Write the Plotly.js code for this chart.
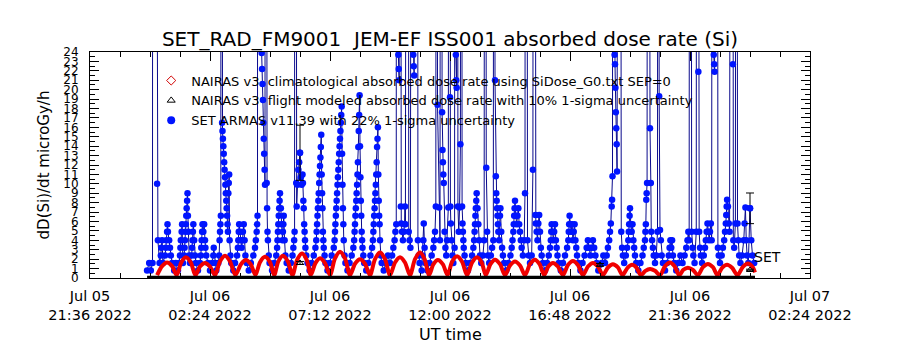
<!DOCTYPE html>
<html>
<head>
<meta charset="utf-8">
<script src="https://cdn.plot.ly/plotly-3.0.1.min.js"></script>
<style>html,body{margin:0;padding:0;background:#fff;}#chart{width:900px;height:350px;}</style>
</head>
<body>
<div id="chart"></div>
<script>
// Time reference: minutes after 2022-07-05 21:36 UT
const BASE_TIME = Date.UTC(2022, 6, 5, 21, 36, 0);

// SET ARMAS v11.39 (blue) : minutes after base, dose rate microGy/h (200 = off-scale spike)
const blueMin = [137,142,146,150,151,161,163,167,170,171,173,175,180,182,183,185,186,187,190,192,194,197,202,206,211,214,216,217,218,220,221,223,226,227,228,229,230,231,232,233,234,235,236,238,240,244,245,246,247,248,250,252,254,259,264,266,267,268,269,270,272,274,276,277,279,283,288,293,296,297,300,303,308,310,311,312,313,314,315,317,318,319,320,321,322,323,324,325,326,327,328,329,330,331,332,333,334,335,337,339,344,348,353,355,356,357,358,360,362,364,366,367,369,371,373,376,381,386,392,396,398,400,401,402,403,412,413,414,415,416,417,418,419,420,421,424,425,426,427,429,431,437,442,447,449,450,451,452,453,454,455,456,458,460,462,463,464,465,467,469,472,477,482,486,488,490,491,492,495,496,498,500,502,504,506,508,510,511,512,513,514,515,516,517,519,522,527,532,537,541,543,544,545,546,547,548,549,550,551,552,553,554,555,556,557,558,559,560,561,563,565,570,575,580,585,587,588,589,590,591,592,593,594,595,596,597,598,599,600,601,602,603,604,605,606,607,608,609,611,613,618,623,628,632,634,635,636,637,638,639,640,641,642,643,644,645,646,647,648,649,650,651,652,653,654,656,658,663,668,673,677,679,680,681,682,683,684,685,686,687,688,689,690,691,692,693,694,695,696,698,700,705,710,715,720,725,728,731,733,735,736,740,741,742,743,746,747,749,751,753,755,756,757,762,765,767,769,774,776,777,778,785,787,789,791,796,798,800,801,803,805,810,815,820,824,826,828,830,832,834,838,840,843,845,846,847,848,849,851,853,855,857,860,862,864,865,866,868,870,872,875,877,878,879,880,881,883,885,887,889,891,893,894,895,896,897,899,902,907,912,917,920,922,923,924,925,926,927,928,930,932,934,936,939,943,946,948,951,953,955,958,962,965,968,970,972,974,975,976,977,978,979,980,982,984,985,987,989,991,994,999,1004,1009,1012,1014,1016,1017,1018,1019,1020,1022,1024,1026,1028,1030,1032,1034,1036,1039,1042,1044,1046,1050,1053,1056,1060,1063,1065,1069,1070,1072,1074,1076,1078,1080,1082,1084,1087,1092,1097,1101,1104,1106,1107,1108,1110,1112,1114,1116,1118,1120,1122,1125,1130,1135,1140,1145,1148,1149,1150,1151,1153,1155,1157,1159,1161,1163,1165,1167,1169,1172,1177,1182,1187,1192,1195,1198,1201,1204,1207,1210,1213,1216,1220,1224,1228,1232,1236,1240,1243,1246,1248,1250,1252,1253,1254,1256,1259,1260,1261,1262,1263,1264,1265,1271,1275,1277,1279,1282,1286,1289,1292,1293,1294,1295,1296,1298,1300,1302,1304,1306,1308,1311,1316,1321,1326,1329,1332,1333,1334,1335,1336,1337,1339,1344,1346,1347,1349,1351,1353,1356,1359,1362,1364,1366,1368,1370,1372,1375,1380,1385,1389,1391,1393,1395,1397,1399,1402,1407,1412,1417,1422,1427,1431,1434,1436,1438,1440,1444,1446,1448,1451,1455,1457,1460,1462,1464,1466,1469,1473,1476,1478,1480,1482,1484,1486,1488,1490,1492,1495,1497,1498,1499,1504,1507,1509,1512,1516,1519,1522,1524,1526,1527,1528,1529,1531,1533,1535,1541,1543,1544,1546,1549,1551,1554,1556,1558,1561,1565,1569,1571,1573,1575,1577,1580,1584,1587,1590,1594];
const blueVal = [0.8,1.6,0.8,1.6,200,10.0,4.0,1.6,2.4,3.2,4.0,1.6,2.4,3.2,4.0,4.9,5.7,4.9,4.0,3.2,2.4,1.6,0.8,1.6,0.8,1.6,2.4,3.2,4.0,4.9,5.7,1.6,2.4,3.2,4.0,4.9,5.7,6.6,7.4,8.2,9.0,6.6,4.9,2.4,1.6,2.4,3.2,4.0,4.9,5.7,4.0,2.4,1.6,0.8,1.6,2.4,3.2,4.0,4.9,5.7,4.9,5.7,4.0,3.2,2.4,1.6,0.8,1.6,2.4,3.2,1.6,0.8,1.6,2.4,4.0,4.9,5.7,6.6,200,16.5,15.6,14.8,14.0,13.2,12.3,11.5,10.7,9.9,9.0,8.2,7.4,6.6,5.7,4.9,9.0,10.1,11.0,4.0,2.4,1.6,0.8,1.6,2.4,3.2,4.0,4.9,5.7,4.9,4.0,3.2,4.0,4.9,5.7,4.0,2.4,1.6,0.8,1.6,2.4,3.2,4.0,4.9,5.7,6.6,200,23.9,22.2,20.6,18.9,16.5,14.8,13.2,11.5,9.9,200,10.1,7.4,4.9,4.0,2.4,1.6,0.8,1.6,2.4,3.2,4.0,4.9,5.7,6.6,7.4,8.2,9.0,7.4,5.7,4.0,4.9,5.7,6.6,4.0,2.4,1.6,0.8,1.6,2.4,3.2,4.0,4.9,200,10.1,7.6,9.9,11.5,12.3,13.3,10.7,9.9,11.0,10.1,8.2,7.4,5.7,4.9,4.0,3.2,2.4,1.6,0.8,1.6,2.4,3.2,4.0,4.9,5.7,6.6,7.4,8.2,9.0,10.1,11.0,11.9,12.8,13.9,15.2,11.0,9.0,7.4,4.9,4.0,3.2,2.4,1.6,0.8,1.6,2.4,3.2,4.0,4.9,5.7,6.6,7.4,8.2,9.0,9.9,10.7,11.5,12.3,13.2,14.0,14.8,15.6,16.5,17.3,18.2,13.2,9.9,7.4,5.7,4.0,2.4,1.6,0.8,1.6,2.4,3.2,4.0,4.9,5.7,6.6,7.4,8.2,9.0,9.9,11.0,12.3,13.9,15.6,17.3,19.4,14.0,10.7,8.2,6.6,4.9,4.0,3.2,2.4,1.6,0.8,1.6,2.4,3.2,4.0,4.9,5.7,6.6,7.4,8.2,9.0,9.9,11.0,12.3,13.9,14.8,16.0,11.0,8.2,6.6,5.7,4.0,2.4,1.6,0.8,1.6,2.4,1.6,2.4,3.2,4.0,4.9,5.7,200,23.7,22.2,21.0,200,7.6,5.8,4.9,4.0,4.9,5.7,7.6,5.7,200,4.9,4.0,3.2,200,23.7,22.5,21.5,200,4.0,2.4,1.6,0.8,2.4,4.0,5.8,3.2,1.6,0.8,1.6,2.4,3.2,4.0,4.9,7.6,200,18.4,7.5,4.0,200,17.6,13.6,12.3,11.0,10.1,4.9,3.2,2.4,4.0,7.5,200,19.2,7.6,5.8,4.0,2.4,1.6,3.2,200,23.7,21.0,20.2,200,7.6,4.9,7.5,14.2,200,7.6,5.8,4.9,4.0,3.2,2.4,1.6,0.8,1.6,2.4,3.2,4.0,4.9,5.7,6.6,7.4,8.2,9.0,7.4,5.7,4.0,2.4,1.6,2.4,4.0,200,11.7,4.9,2.4,1.6,2.4,3.2,4.0,200,21.0,10.8,9.0,8.2,7.4,6.6,5.7,4.9,4.0,6.6,7.4,4.9,3.2,2.4,1.6,0.8,1.6,2.4,3.2,4.0,4.9,5.7,6.6,7.4,8.2,6.6,5.7,6.6,7.4,5.7,4.9,4.0,3.2,2.4,4.0,9.0,200,4.0,2.4,1.6,2.4,11.5,200,6.7,5.8,4.9,4.0,5.8,6.7,4.9,3.2,2.4,1.6,0.8,1.6,2.4,3.2,4.0,4.9,5.7,4.9,4.0,4.9,5.7,4.0,3.2,2.4,1.6,0.8,1.6,2.4,3.2,4.0,4.9,5.7,6.6,5.7,4.9,5.7,4.0,4.9,5.7,4.0,3.2,2.4,1.6,0.8,1.6,2.4,3.2,4.0,3.2,2.4,3.2,4.0,3.2,2.4,1.6,0.8,1.4,1.6,2.4,1.6,2.4,3.2,4.0,4.9,5.8,7.6,8.3,10.8,200,23.7,22.7,20.2,17.6,15.9,14.2,11.3,200,4.9,3.2,2.4,1.6,2.4,3.2,4.0,4.9,5.7,6.6,7.4,5.7,4.9,5.7,4.0,3.2,2.4,1.6,0.8,1.6,2.4,3.2,4.0,4.9,5.7,8.3,9.0,10.1,200,15.9,10.1,4.9,4.0,3.2,2.4,1.6,2.4,4.9,200,19.3,5.1,4.0,2.4,1.6,0.8,1.6,2.4,3.2,4.0,3.2,4.0,2.4,1.6,0.8,1.6,2.4,1.6,2.4,3.2,4.0,4.9,4.0,200,4.9,3.2,2.4,1.6,4.9,200,21.9,4.9,3.2,2.4,1.6,2.4,3.2,4.0,4.9,5.8,4.9,4.0,4.9,5.8,4.0,200,23.7,22.7,21.9,200,3.2,2.4,1.6,2.4,3.2,4.0,4.9,5.8,6.7,7.6,8.3,7.6,5.8,4.9,200,22.7,4.0,3.2,5.8,200,5.8,4.0,2.4,1.6,2.4,4.0,5.8,7.5,4.0,2.4,1.6,7.4,4.0,2.4,1.6];

// SET ARMAS points carrying the 22% 1-sigma bars
const blueErrMin = [504, 1584];
const blueErrVal = [13.3, 7.4];

// NAIRAS v3 climatological (red)
const redMin = [161,173,185,197,208,219,230,242,253,264,276,288,300,312,324,336,349,362,374,386,397,408,420,432,442,452,463,475,486,497,509,520,530,541,552,564,576,588,600,612,624,636,648,660,672,684,696,708,720,732,744,756,768,780,792,803,814,824,835,847,858,869,881,893,905,917,929,940,950,961,972,984,996,1008,1020,1032,1044,1056,1068,1079,1090,1100,1111,1123,1135,1147,1159,1171,1183,1195,1207,1219,1231,1243,1255,1267,1278,1290,1301,1312,1322,1333,1344,1356,1368,1380,1392,1403,1414,1424,1435,1447,1459,1471,1483,1495,1506,1517,1529,1541,1554,1567,1579,1590,1596];
const redVal = [0.3,1.26,1.65,1.26,0.3,1.65,2.2,1.65,0.3,1.22,1.6,1.22,0.3,1.76,2.35,1.76,0.3,1.44,1.9,1.44,0.3,1.68,2.25,1.68,0.3,1.76,2.35,1.76,0.3,1.93,2.6,1.93,0.3,1.58,2.1,1.58,0.3,2.08,2.8,2.08,0.3,1.51,2.0,1.51,0.3,2.0,2.7,2.0,0.3,1.65,2.2,1.65,0.3,2.0,2.7,2.0,0.3,1.44,1.9,1.44,0.3,1.72,2.3,1.72,0.3,1.65,2.2,1.65,0.3,1.47,1.95,1.47,0.3,1.33,1.75,1.33,0.3,1.47,1.95,1.47,0.3,1.22,1.6,1.22,0.3,1.37,1.8,1.37,0.3,1.22,1.6,1.22,0.3,1.12,1.45,1.12,0.3,1.08,1.4,1.08,0.3,0.76,0.95,0.76,0.3,1.26,1.65,1.26,0.3,0.87,1.1,0.87,0.3,1.15,1.5,1.15,0.3,1.08,1.4,1.08,0.3,1.19,1.55,1.19,0.6];

// NAIRAS v3 flight modeled (black) with 10% bars
const flightMin = [504, 1224, 1584];
const flightVal = [1.6, 1.4, 0.85];
// flight-modeled baseline along the track
const flightBaseMin = [137, 1596];
const flightBaseVal = [0.08, 0.08];

const legendNames = [
  'NAIRAS v3  climatological absorbed dose rate using SiDose_G0.txt SEP=0',
  'NAIRAS v3  flight modeled absorbed dose rate with 10% 1-sigma uncertainty',
  'SET ARMAS v11.39 with 22% 1-sigma uncertainty'
];
const yTicks = [0,1,2,3,4,5,6,7,8,9,10,11,12,13,14,15,16,17,18,19,20,21,22,23,24];

function toDate(m) {
  const d = new Date(BASE_TIME + m * 60000);
  const p = n => String(n).padStart(2, '0');
  return d.getUTCFullYear() + '-' + p(d.getUTCMonth() + 1) + '-' + p(d.getUTCDate()) + ' ' +
         p(d.getUTCHours()) + ':' + p(d.getUTCMinutes()) + ':' + p(d.getUTCSeconds());
}

const FONT = 'DejaVu Sans, sans-serif';
const BLUE_LINE = 'rgb(10,10,140)';
const BLUE_MK = 'rgb(0,20,255)';
const RED = 'rgb(240,0,0)';

const traces = [
  { x: blueMin.map(toDate), y: blueVal, type: 'scatter', mode: 'lines+markers',
    line: { color: BLUE_LINE, width: 1 }, marker: { color: BLUE_MK, size: 6.5, symbol: 'circle' },
    showlegend: false, hoverinfo: 'skip' },
  { x: blueErrMin.map(toDate), y: blueErrVal, type: 'scatter', mode: 'markers',
    marker: { color: BLUE_MK, size: 6.5 },
    error_y: { type: 'percent', value: 22, color: 'black', thickness: 1, width: 4 },
    showlegend: false, hoverinfo: 'skip' },
  { x: redMin.map(toDate), y: redVal, type: 'scatter', mode: 'lines',
    line: { color: RED, width: 4, shape: 'spline', smoothing: 0.8 },
    showlegend: false, hoverinfo: 'skip' },
  { x: flightBaseMin.map(toDate), y: flightBaseVal, type: 'scatter', mode: 'lines',
    line: { color: 'black', width: 3 }, showlegend: false, hoverinfo: 'skip' },
  { x: flightMin.map(toDate), y: flightVal, type: 'scatter', mode: 'markers',
    marker: { color: 'black', size: 6, symbol: 'triangle-up-open' },
    error_y: { type: 'percent', value: 10, color: 'black', thickness: 1, width: 4 },
    showlegend: false, hoverinfo: 'skip' },
  // legend entries
  { x: [null], y: [null], type: 'scatter', mode: 'markers', name: legendNames[0],
    marker: { color: 'rgb(210,0,0)', size: 7, symbol: 'diamond-open', line: { width: 1 } } },
  { x: [null], y: [null], type: 'scatter', mode: 'markers', name: legendNames[1],
    marker: { color: 'black', size: 7, symbol: 'triangle-up-open', line: { width: 1 } } },
  { x: [null], y: [null], type: 'scatter', mode: 'markers', name: legendNames[2],
    marker: { color: BLUE_MK, size: 8, symbol: 'circle' } }
];

const layout = {
  width: 900, height: 350,
  margin: { l: 90, r: 90, t: 52, b: 72 },
  paper_bgcolor: 'white', plot_bgcolor: 'white',
  font: { family: FONT, color: 'black', size: 13 },
  title: { text: 'SET_RAD_FM9001\u00a0\u00a0JEM-EF ISS001 absorbed dose rate (Si)',
           font: { family: FONT, size: 20, color: 'black' }, x: 0.5, xanchor: 'center', y: 0.89, yanchor: 'middle' },
  showlegend: true,
  legend: { x: 0.085, y: 0.94, xanchor: 'left', yanchor: 'top', bgcolor: 'rgba(0,0,0,0)',
            font: { family: FONT, size: 13, color: 'black' }, tracegroupgap: 0, itemwidth: 30 },
  xaxis: {
    type: 'date',
    range: [toDate(0), toDate(1728)],
    tick0: toDate(0), dtick: 17280000,
    tickformat: '%b %d<br>%H:%M %Y',
    ticks: 'inside', ticklen: 9, tickcolor: 'black',
    minor: { dtick: 4320000, tick0: toDate(0), ticks: 'inside', ticklen: 5, tickcolor: 'black', showgrid: false },
    showline: true, linecolor: 'black', linewidth: 1, mirror: 'ticks',
    showgrid: false, zeroline: false,
    tickfont: { family: FONT, size: 14.5, color: 'black' },
    ticklabelstandoff: 5
  },
  yaxis: {
    range: [0, 24],
    tickvals: yTicks, ticktext: yTicks.map(String),
    ticks: 'inside', ticklen: 9, tickcolor: 'black',
    minor: { dtick: 0.5, ticks: 'inside', ticklen: 5, tickcolor: 'black', showgrid: false },
    showline: true, linecolor: 'black', linewidth: 1, mirror: 'ticks',
    showgrid: false, zeroline: false,
    tickfont: { family: FONT, size: 12, color: 'black' },
    ticklabelstandoff: 8,
    title: { text: 'dD(Si)/dt microGy/h', font: { family: FONT, size: 15, color: 'black' }, standoff: 10 }
  },
  annotations: [
    { x: toDate(1588), y: 2.2, xref: 'x', yref: 'y', text: 'SET', showarrow: false,
      xanchor: 'left', yanchor: 'middle', font: { family: FONT, size: 14, color: 'black' } },
    { x: 0.5, y: -0.25, xref: 'paper', yref: 'paper', text: 'UT time', showarrow: false,
      xanchor: 'center', yanchor: 'middle', font: { family: FONT, size: 16, color: 'black' } }
  ]
};

Plotly.newPlot('chart', traces, layout, { staticPlot: true, displayModeBar: false });
</script>
</body>
</html>
